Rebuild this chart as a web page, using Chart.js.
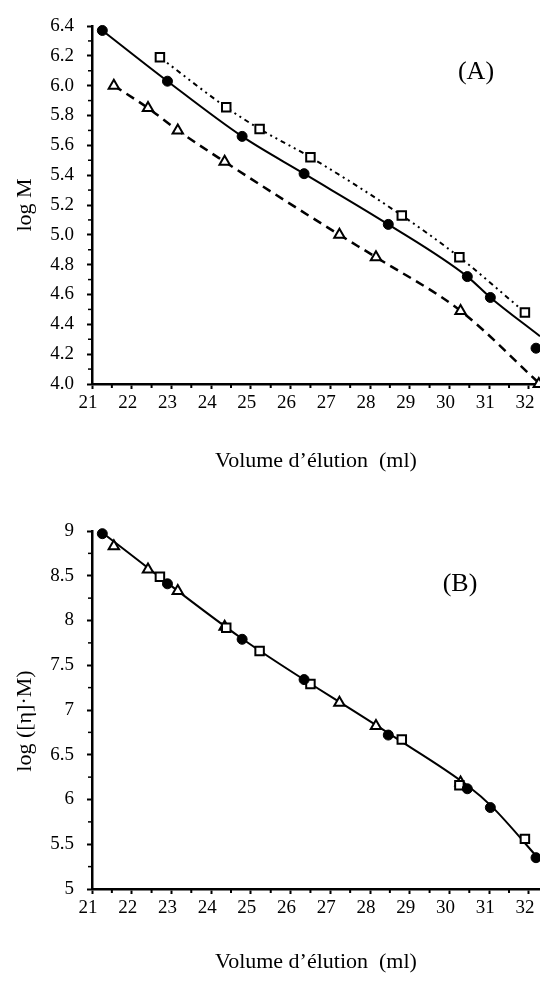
<!DOCTYPE html>
<html lang="fr">
<head>
<meta charset="UTF-8" />
<meta name="viewport" content="width=device-width, initial-scale=1.0" />
<title>Calibration SEC</title>
<script src="https://cdn.jsdelivr.net/npm/chart.js"></script>
<style>
  body { margin: 0; background: #fff; }
  .panel { position: absolute; left: 0; width: 540px; }
  #panelA { top: 0; height: 490px; }
  #panelB { top: 500px; height: 481px; }
</style>
</head>
<body>
<div class="panel" id="panelA"><canvas id="chartA"></canvas></div>
<div class="panel" id="panelB"><canvas id="chartB"></canvas></div>

<script>
  // volumes d'élution (ml) de chaque série
  const volCircle   = [21.26, 22.90, 24.78, 26.34, 28.46, 30.45, 31.03, 32.18];
  const volSquare   = [22.71, 24.38, 25.22, 26.50, 28.80, 30.25, 31.90];
  const volTriangle = [21.55, 22.41, 23.16, 24.34, 27.23, 28.15, 30.28, 32.25];

  // (A) log M
  const logMCircle   = [6.37, 6.03, 5.66, 5.41, 5.07, 4.72, 4.58, 4.24];
  const logMSquare   = [6.19, 5.855, 5.71, 5.52, 5.13, 4.85, 4.48];
  const logMTriangle = [6.00, 5.85, 5.70, 5.49, 5.00, 4.85, 4.49, 4.00];

  // (A) courbes d'étalonnage
  const fitVolCircle = [21.26, 22.90, 24.78, 26.34, 28.46, 30.45, 31.03, 32.28];
  const fitMCircle   = [6.37, 6.03, 5.66, 5.41, 5.07, 4.72, 4.58, 4.32];
  const fitVolSquare = [22.71, 24.38, 25.22, 26.50, 28.80, 30.25, 31.90];
  const fitMSquare   = [6.19, 5.855, 5.71, 5.52, 5.13, 4.85, 4.48];
  const fitVolTri    = [21.55, 22.41, 23.16, 24.34, 27.23, 28.15, 30.28, 32.28];
  const fitMTri      = [6.00, 5.85, 5.70, 5.49, 5.00, 4.85, 4.49, 4.00];

  // (B) log([eta].M)
  const logHCircle   = [8.97, 8.41, 7.79, 7.34, 6.72, 6.12, 5.91, 5.35];
  const logHSquare   = [8.49, 7.92, 7.66, 7.29, 6.67, 6.16, 5.56];
  const logHTriangle = [8.83, 8.57, 8.33, 7.93, 7.08, 6.82, 6.19, null];

  // (B) courbe universelle
  const fitVolUniv = [21.26, 24.80, 28.50, 30.50, 31.07, 32.28];
  const fitHUniv   = [8.98, 7.79, 6.73, 6.14, 5.92, 5.32];

  const xTicks  = [21, 22, 23, 24, 25, 26, 27, 28, 29, 30, 31, 32];
  const yTicksA = [4.0, 4.2, 4.4, 4.6, 4.8, 5.0, 5.2, 5.4, 5.6, 5.8, 6.0, 6.2, 6.4];
  const yTicksB = [5, 5.5, 6, 6.5, 7, 7.5, 8, 8.5, 9];

  const serif = "'Liberation Serif', 'Times New Roman', serif";
  Chart.defaults.font.family = serif;
  Chart.defaults.color = '#000';
  Chart.defaults.animation = false;

  function pts(xs, ys) {
    return xs.map((x, i) => ({ x: x, y: ys[i] })).filter(p => p.y !== null);
  }

  function lineSet(xs, ys, dash, width) {
    return {
      data: pts(xs, ys), showLine: true, borderColor: '#000', borderWidth: width,
      borderDash: dash, pointRadius: 0, pointHoverRadius: 0, fill: false,
      cubicInterpolationMode: 'monotone', order: 2
    };
  }

  function markSet(xs, ys, style, radius, filled) {
    return {
      data: pts(xs, ys), showLine: false, pointStyle: style, pointRadius: radius,
      pointHoverRadius: radius, pointBorderWidth: filled ? 1 : 2, pointBorderColor: '#000',
      pointBackgroundColor: filled ? '#000' : '#fff', clip: false, order: 1
    };
  }

  // petites graduations + étiquette du panneau
  const decor = {
    id: 'decor',
    afterDraw(chart, args, opts) {
      const { ctx, scales: { x, y } } = chart;
      ctx.save();
      ctx.fillStyle = '#000';
      xTicks.forEach(v => {
        const m = v + 0.5;
        if (m > x.max) return;
        ctx.fillRect(x.getPixelForValue(m) - 1, y.bottom + 1, 2, 3);
      });
      for (let i = 0; i < opts.yTicks.length - 1; i++) {
        const m = (opts.yTicks[i] + opts.yTicks[i + 1]) / 2;
        ctx.fillRect(x.left - 4, y.getPixelForValue(m) - 0.75, 3, 1.5);
      }
      ctx.font = opts.size + 'px ' + serif;
      ctx.textAlign = 'center';
      ctx.textBaseline = 'middle';
      ctx.fillText(opts.label, opts.lx, opts.ly);
      ctx.restore();
    }
  };

  function scalesFor(yMin, yMax, yTicks, yTitle, fmt, xHeight, xTitlePad) {
    return {
      x: {
        type: 'linear', min: 21, max: 32.28,
        afterBuildTicks: ax => { ax.ticks = xTicks.map(v => ({ value: v })); },
        afterFit: ax => { ax.height = xHeight; ax.paddingLeft = 0; ax.paddingRight = 0; },
        ticks: { font: { size: 19 }, padding: 3, labelOffset: -4, autoSkip: false, maxRotation: 0 },
        grid: { drawOnChartArea: false, tickLength: 5, tickWidth: 2, tickColor: '#000' },
        border: { display: true, color: '#000', width: 2.5 },
        title: { display: true, text: 'Volume d\u2019élution  (ml)', font: { size: 22 }, padding: { top: 0, bottom: xTitlePad } }
      },
      y: {
        type: 'linear', min: yMin, max: yMax,
        afterBuildTicks: ax => { ax.ticks = yTicks.map(v => ({ value: v })); },
        afterFit: ax => { ax.width = 92; ax.paddingTop = 0; ax.paddingBottom = 0; },
        ticks: { font: { size: 19 }, padding: 13, callback: fmt },
        grid: { drawOnChartArea: false, tickLength: 5, tickWidth: 2, tickColor: '#000' },
        border: { display: true, color: '#000', width: 2.5 },
        title: { display: true, text: yTitle, font: { size: 22 }, padding: { top: 12, bottom: 0 } }
      }
    };
  }

  new Chart(document.getElementById('chartA'), {
    type: 'scatter',
    data: {
      datasets: [
        markSet(volCircle, logMCircle, 'circle', 5, true),
        markSet(volSquare, logMSquare, 'rect', 6, false),
        markSet(volTriangle, logMTriangle, 'triangle', 6, false),
        lineSet(fitVolCircle, fitMCircle, [], 2),
        lineSet(fitVolSquare, fitMSquare, [5, 4, 2, 4, 2, 4], 2),
        lineSet(fitVolTri, fitMTri, [9, 6], 2.5)
      ]
    },
    options: {
      responsive: true,
      maintainAspectRatio: false,
      layout: { autoPadding: false, padding: { top: 26, right: 0, bottom: 0, left: 0 } },
      scales: scalesFor(4.0, 6.4, yTicksA, 'log M', v => v.toFixed(1), 106, 16),
      plugins: {
        legend: { display: false },
        tooltip: { enabled: false },
        decor: { yTicks: yTicksA, label: '(A)', size: 26, lx: 476, ly: 72 }
      }
    },
    plugins: [decor]
  });

  new Chart(document.getElementById('chartB'), {
    type: 'scatter',
    data: {
      datasets: [
        markSet(volCircle, logHCircle, 'circle', 5, true),
        markSet(volSquare, logHSquare, 'rect', 6, false),
        markSet(volTriangle, logHTriangle, 'triangle', 6, false),
        lineSet(fitVolUniv, fitHUniv, [], 2)
      ]
    },
    options: {
      responsive: true,
      maintainAspectRatio: false,
      layout: { autoPadding: false, padding: { top: 31, right: 0, bottom: 0, left: 0 } },
      scales: scalesFor(5, 9, yTicksB, 'log ([\u03b7]\u00b7M)\u2003', v => String(v), 92, 6),
      plugins: {
        legend: { display: false },
        tooltip: { enabled: false },
        decor: { yTicks: yTicksB, label: '(B)', size: 26, lx: 460, ly: 84 }
      }
    },
    plugins: [decor]
  });
</script>
</body>
</html>
